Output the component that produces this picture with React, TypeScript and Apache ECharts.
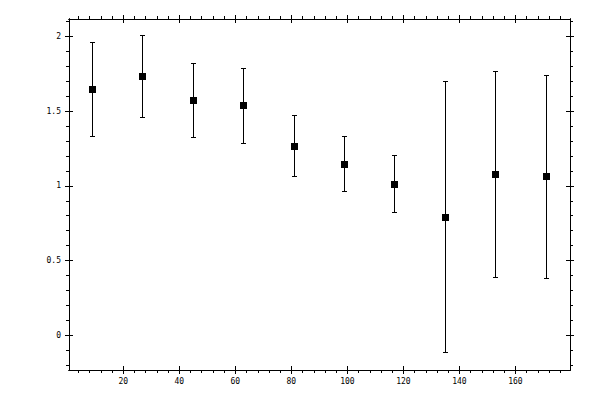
import { useEffect, useRef } from "react";
import * as echarts from "echarts";

const xValues = [9, 27, 45, 63, 81, 99, 117, 135, 153, 171];
const yValues = [1.645, 1.731, 1.569, 1.537, 1.266, 1.143, 1.012, 0.789, 1.077, 1.061];
const yErrors = [0.313, 0.272, 0.246, 0.251, 0.204, 0.184, 0.19, 0.907, 0.689, 0.679];

const xMajorTicks = [20, 40, 60, 80, 100, 120, 140, 160];
const xMinorTicks = [
  4, 8, 12, 16, 24, 28, 32, 36, 44, 48, 52, 56, 64, 68, 72, 76, 84, 88, 92, 96,
  104, 108, 112, 116, 124, 128, 132, 136, 144, 148, 152, 156, 164, 168, 172, 176,
];
const yMajorTicks = [0, 0.5, 1, 1.5, 2];
const yMinorTicks = [
  -0.2, -0.1, 0.1, 0.2, 0.3, 0.4, 0.6, 0.7, 0.8, 0.9, 1.1, 1.2, 1.3, 1.4, 1.6,
  1.7, 1.8, 1.9, 2.1,
];

const X_MIN = 0.6;
const X_MAX = 179.5;
const Y_MIN = -0.232;
const Y_MAX = 2.116;

const INK = "#000";
const LABEL_FONT = "DejaVu Sans Mono, monospace";

type AxisDir = "x" | "y";

const makeAxis = (
  dir: AxisDir,
  position: string,
  ticks: number[],
  inside: boolean,
  length: number,
  withLabels: boolean,
) => ({
  type: "value" as const,
  position,
  offset: 0,
  min: dir === "x" ? X_MIN : Y_MIN,
  max: dir === "x" ? X_MAX : Y_MAX,
  axisLine: { show: true, onZero: false, lineStyle: { color: INK, width: 1 } },
  axisTick: {
    show: true,
    inside,
    length,
    customValues: ticks,
    lineStyle: { color: INK, width: 1 },
  },
  axisLabel: withLabels
    ? {
        show: true,
        customValues: ticks,
        color: INK,
        fontFamily: LABEL_FONT,
        fontSize: 8,
        margin: dir === "x" ? 7 : 8,
      }
    : { show: false },
  splitLine: { show: false },
});

// snap to the pixel grid so the 1px strokes stay sharp
const crisp = (v: number) => Math.round(v - 0.5) + 0.5;

const App = () => {
  const chartRef = useRef<HTMLDivElement | null>(null);

  useEffect(() => {
    if (!chartRef.current) {
      return;
    }
    const instance = echarts.init(chartRef.current, undefined, {
      renderer: "svg",
    });

    const bars = xValues.map((x, i) => [x, yValues[i], yErrors[i]]);

    const option = {
      animation: false,
      backgroundColor: "#fff",
      grid: {
        left: 69,
        right: 30,
        top: 19,
        bottom: 30,
        containLabel: false,
        outerBoundsMode: "none",
      },
      xAxis: [
        makeAxis("x", "bottom", xMajorTicks, false, 4, true),
        makeAxis("x", "bottom", xMajorTicks, true, 4, false),
        makeAxis("x", "bottom", xMinorTicks, false, 3, false),
        makeAxis("x", "top", xMajorTicks, false, 4, false),
        makeAxis("x", "top", xMajorTicks, true, 4, false),
        makeAxis("x", "top", xMinorTicks, false, 3, false),
      ],
      yAxis: [
        makeAxis("y", "left", yMajorTicks, false, 4, true),
        makeAxis("y", "left", yMajorTicks, true, 4, false),
        makeAxis("y", "left", yMinorTicks, false, 3, false),
        makeAxis("y", "right", yMajorTicks, false, 4, false),
        makeAxis("y", "right", yMajorTicks, true, 4, false),
        makeAxis("y", "right", yMinorTicks, false, 3, false),
      ],
      series: [
        {
          type: "custom",
          xAxisIndex: 0,
          yAxisIndex: 0,
          data: bars,
          encode: { x: 0, y: 1 },
          z: 2,
          renderItem: (_params: unknown, api: any) => {
            const x = api.value(0);
            const y = api.value(1);
            const e = api.value(2);
            const top = api.coord([x, y + e]);
            const mid = api.coord([x, y]);
            const bottom = api.coord([x, y - e]);
            const cx = crisp(top[0]);
            const ty = crisp(top[1]);
            const my = crisp(mid[1]);
            const by = crisp(bottom[1]);
            const half = 2.5;
            const box = 7;
            const style = { stroke: INK, lineWidth: 1 };
            return {
              type: "group",
              children: [
                { type: "line", shape: { x1: cx, y1: ty, x2: cx, y2: by }, style },
                { type: "line", shape: { x1: cx - half, y1: ty, x2: cx + half, y2: ty }, style },
                { type: "line", shape: { x1: cx - half, y1: by, x2: cx + half, y2: by }, style },
                {
                  type: "rect",
                  shape: { x: cx - box / 2, y: my - box / 2, width: box, height: box },
                  style: { fill: INK },
                },
              ],
            };
          },
        },
      ],
    };

    instance.setOption(option as echarts.EChartsOption);

    return () => {
      instance.dispose();
    };
  }, []);

  return (
    <div
      ref={chartRef}
      style={{ position: "absolute", left: 0, top: 0, width: 600, height: 400 }}
    />
  );
};

export default App;
